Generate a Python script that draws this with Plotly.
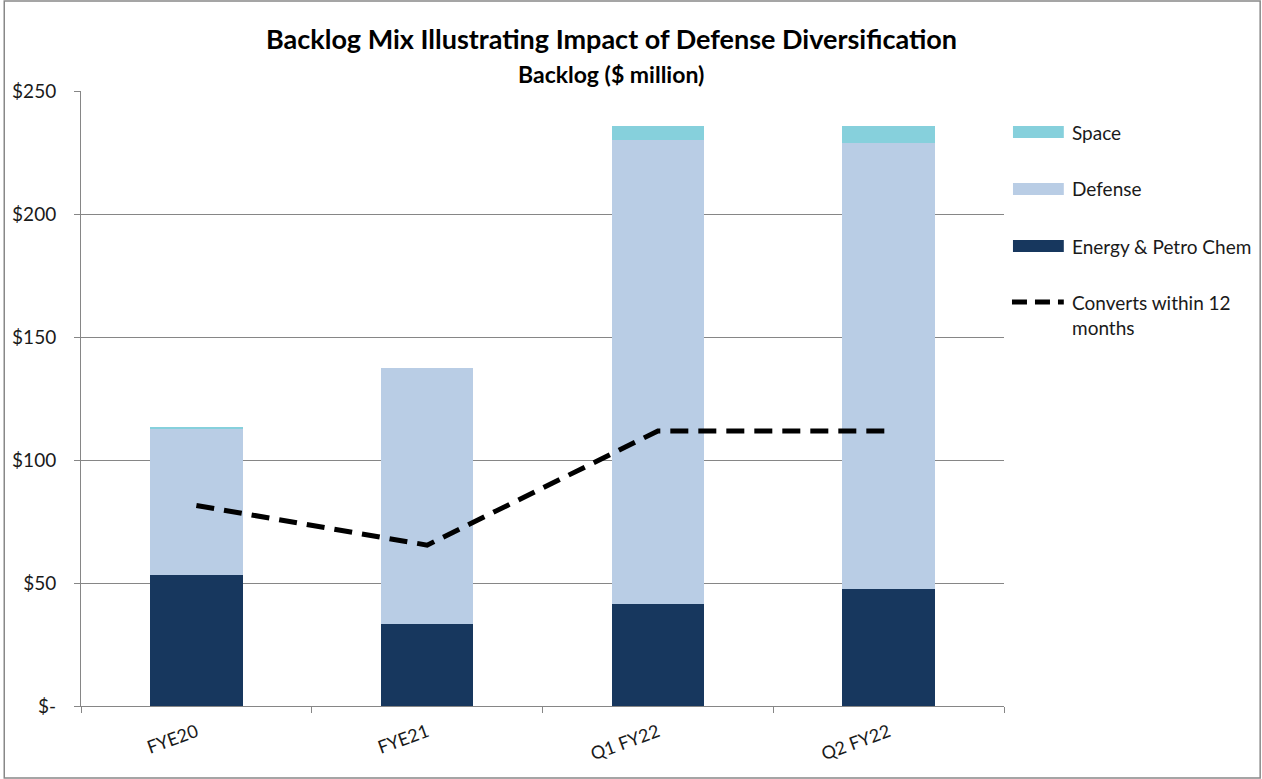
import plotly.graph_objects as go

# Backlog by segment ($ million)
periods = ["FYE20", "FYE21", "Q1 FY22", "Q2 FY22"]
energy = [53.3, 33.3, 41.5, 47.6]
defense = [59.7, 104.2, 188.6, 181.3]
space = [0.6, 0.0, 5.7, 6.9]
converts_12m = [81.5, 65.4, 111.8, 111.8]

y_ticks = [0, 50, 100, 150, 200, 250]
y_tick_text = ["$-", "$50", "$100", "$150", "$200", "$250"]

colors = {"Space": "#86d0dc", "Defense": "#b9cde5", "Energy & Petro Chem": "#17375e"}

font = "Lato, 'Open Sans', sans-serif"

W, H = 1262, 779
L, R, T, B = 78, 258, 91, 73
pw, ph = W - L - R, H - T - B


def px(x):
    return (x - L) / pw


def py(y):
    return (H - B - y) / ph


fig = go.Figure()

fig.add_trace(go.Bar(x=periods, y=energy, name="Energy & Petro Chem",
                     marker=dict(color=colors["Energy & Petro Chem"], line_width=0)))
fig.add_trace(go.Bar(x=periods, y=defense, name="Defense",
                     marker=dict(color=colors["Defense"], line_width=0)))
fig.add_trace(go.Bar(x=periods, y=space, name="Space",
                     marker=dict(color=colors["Space"], line_width=0)))
fig.add_trace(go.Scatter(x=periods, y=converts_12m, name="Converts within 12 months",
                         mode="lines", line=dict(color="black", width=5, dash="18px,10px")))

# legend drawn by hand so the swatches match the wide Excel style
shapes = [
    dict(type="rect", xref="paper", yref="paper",
         x0=px(1), x1=px(W - 1), y0=py(H - 1), y1=py(1),
         line=dict(color="#888888", width=1.5), layer="above"),
]
annotations = [
    dict(text="<b>Backlog Mix Illustrating Impact of Defense Diversification</b>",
         xref="paper", yref="paper", x=px(610), y=py(38), yanchor="middle",
         showarrow=False, font=dict(size=27, color="black")),
    dict(text="<b>Backlog ($ million)</b>",
         xref="paper", yref="paper", x=px(610), y=py(74), yanchor="middle",
         showarrow=False, font=dict(size=23, color="black")),
]
legend_rows = [("Space", 132), ("Defense", 189), ("Energy & Petro Chem", 246)]
for name, yc in legend_rows:
    shapes.append(dict(type="rect", xref="paper", yref="paper",
                       x0=px(1013), x1=px(1064), y0=py(yc + 6), y1=py(yc - 6),
                       fillcolor=colors[name], line_width=0))
    annotations.append(dict(text=name, xref="paper", yref="paper", x=px(1070), y=py(yc),
                            xanchor="left", yanchor="middle", showarrow=False,
                            font=dict(size=19)))
shapes.append(dict(type="line", xref="paper", yref="paper",
                   x0=px(1012), x1=px(1064), y0=py(302), y1=py(302),
                   line=dict(color="black", width=5, dash="15px,8px")))
annotations.append(dict(text="Converts within 12<br>months", xref="paper", yref="paper",
                        x=px(1070), y=py(289), xanchor="left", yanchor="top",
                        align="left", showarrow=False, font=dict(size=19)))

fig.update_layout(
    width=W, height=H,
    barmode="stack", bargap=0.6,
    paper_bgcolor="white", plot_bgcolor="white",
    margin=dict(l=L, r=R, t=T, b=B),
    font=dict(family=font, size=19, color="#1a1a1a"),
    showlegend=False,
    annotations=annotations,
    shapes=shapes,
)

fig.update_xaxes(
    showgrid=False, showline=True, linecolor="#868686", linewidth=1,
    ticks="outside", tickson="boundaries", ticklen=6, tickcolor="#868686",
    tickangle=-20, tickfont=dict(size=18), ticklabelstandoff=8,
)
fig.update_yaxes(
    range=[0, 250], tickvals=y_ticks, ticktext=y_tick_text,
    showgrid=True, gridcolor="#868686", gridwidth=1,
    showline=True, linecolor="#868686", linewidth=1,
    ticks="outside", ticklen=6, tickcolor="#868686",
    zeroline=False, tickfont=dict(size=19), ticklabelstandoff=14,
)

fig.write_html("out.html", config={"displayModeBar": False},
               post_script="document.body.style.margin='0';")
